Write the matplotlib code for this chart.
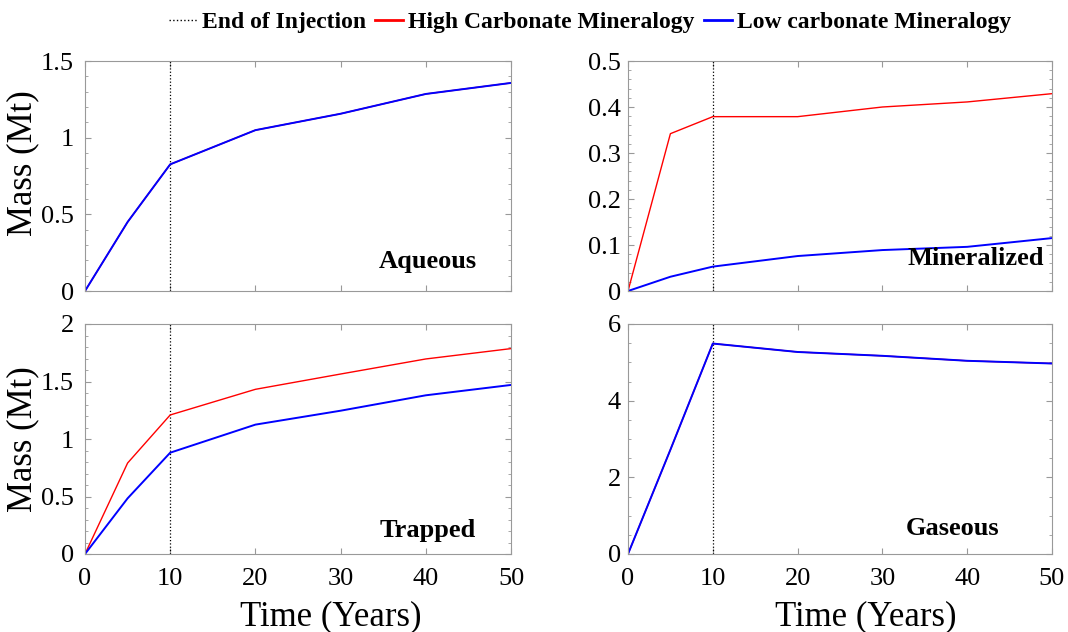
import matplotlib.pyplot as plt
from matplotlib.ticker import AutoMinorLocator, MultipleLocator
from matplotlib.lines import Line2D

plt.rcParams['font.family'] = ['Liberation Serif', 'DejaVu Serif']

# Time axis (years)
years = [0, 5, 10, 20, 30, 40, 50]
end_injection = 10

# Aqueous (Mt)
aqueous_high = [0, 0.45, 0.826, 1.049, 1.156, 1.285, 1.357]
aqueous_low = [0, 0.45, 0.826, 1.049, 1.156, 1.285, 1.357]

# Mineralized (Mt)
mineral_high = [0, 0.342, 0.379, 0.379, 0.400, 0.411, 0.429]
mineral_low = [0, 0.031, 0.053, 0.076, 0.089, 0.096, 0.115]

# Trapped (Mt)
trapped_high = [0, 0.791, 1.209, 1.432, 1.565, 1.696, 1.786]
trapped_low = [0, 0.484, 0.881, 1.125, 1.246, 1.380, 1.470]

# Gaseous (Mt)
gaseous_high = [0, 2.72, 5.49, 5.27, 5.17, 5.04, 4.97]
gaseous_low = [0, 2.72, 5.49, 5.27, 5.17, 5.04, 4.97]

panels = [
    ("Aqueous", aqueous_high, aqueous_low, 1.5, 0.5, 5, (0.805, 0.13)),
    ("Mineralized", mineral_high, mineral_low, 0.5, 0.1, 5, (0.82, 0.14)),
    ("Trapped", trapped_high, trapped_low, 2, 0.5, 5, (0.805, 0.10)),
    ("Gaseous", gaseous_high, gaseous_low, 6, 2, 4, (0.765, 0.11)),
]

fig = plt.figure(figsize=(10.68, 6.32), dpi=100)
W, H = 1068, 632
boxes = [(85, 61, 511, 291), (628, 61, 1052, 291),
         (85, 324, 511, 554), (628, 324, 1052, 554)]
ylabel_y = [0.557, None, 0.5, None]
xlabel_x = [None, None, 0.577, 0.561]

spine_col = '#999999'
for i, (name, hi, lo, ymax, step, nminor, lpos) in enumerate(panels):
    x0, y0, x1, y1 = boxes[i]
    ax = fig.add_axes([x0 / W, 1 - y1 / H, (x1 - x0) / W, (y1 - y0) / H])
    ax.axvline(end_injection, color='black', linestyle=':', linewidth=0.9)
    ax.plot(years, hi, color='red', linewidth=1.0)
    ax.plot(years, lo, color='blue', linewidth=1.4)
    ax.set_xlim(0, 50)
    ax.set_ylim(0, ymax)
    ax.xaxis.set_major_locator(MultipleLocator(10))
    ax.yaxis.set_major_locator(MultipleLocator(step))
    ax.yaxis.set_minor_locator(AutoMinorLocator(nminor))
    ax.yaxis.set_major_formatter(plt.FuncFormatter(lambda v, p: ('%g' % round(v, 3))))
    ax.tick_params(which='both', direction='in', top=True, right=True,
                   color=spine_col, labelsize=19)
    ax.tick_params(which='major', length=4)
    ax.tick_params(which='minor', length=2)
    ax.tick_params(axis='x', pad=10)
    ax.tick_params(axis='y', pad=8 if i % 2 == 0 else 5)
    for s in ax.spines.values():
        s.set_color(spine_col)
        s.set_linewidth(0.8)
    if i < 2:
        ax.tick_params(axis='x', labelbottom=False)
    else:
        ax.set_xlabel("Time (Years)", fontsize=25)
        ax.xaxis.set_label_coords(xlabel_x[i], -0.2)
    if i % 2 == 0:
        ax.set_ylabel("Mass (Mt)", fontsize=25)
        ax.yaxis.set_label_coords(-0.108, ylabel_y[i])
    ax.text(lpos[0], lpos[1], name, transform=ax.transAxes, ha='center',
            va='center', fontsize=19, fontweight='bold')

handles = [
    Line2D([], [], color='black', linestyle=':', linewidth=1),
    Line2D([], [], color='red', linewidth=2),
    Line2D([], [], color='blue', linewidth=2),
]
labels = ["End of Injection", "High Carbonate Mineralogy", "Low carbonate Mineralogy"]
fig.legend(handles, labels, loc='center', bbox_to_anchor=(590 / W, 1 - 22 / H),
           ncol=3, frameon=False, handlelength=1.2, handletextpad=0.2,
           columnspacing=0.4, prop={'weight': 'bold', 'size': 17})

fig.savefig('out.png', dpi=100)
